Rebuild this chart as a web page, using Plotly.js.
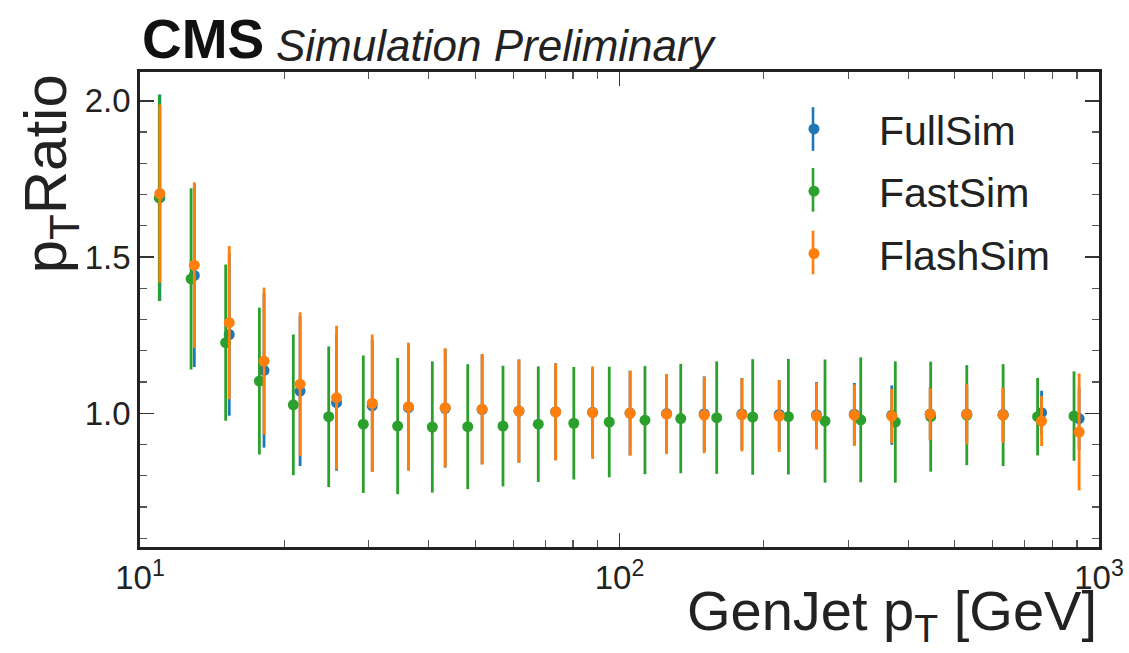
<!DOCTYPE html>
<html><head><meta charset="utf-8">
<script src="https://cdn.plot.ly/plotly-3.0.1.min.js"></script>
<style>html,body{margin:0;padding:0;background:#fff}#chart{width:1129px;height:653px}</style>
</head><body><div id="chart"></div>
<script>
// GenJet pT bin positions (GeV)
const xFullFlash = [11.0, 12.98, 15.35, 18.14, 21.57, 25.7, 30.5, 36.3, 43.3, 51.7, 61.7, 73.6, 87.9,
  105.2, 125.4, 150.2, 180, 215.3, 257.6, 308.8, 369.7, 444.6, 530, 631, 759, 909];
const xFast = [10.97, 12.78, 15.09, 17.74, 20.88, 24.75, 29.22, 34.46, 40.7, 48.25, 57.15, 67.7, 80.3,
  95.2, 113, 134.2, 159.5, 189.6, 225, 268.3, 318.5, 376, 445.7, 530, 631, 744.6, 887];

// FullSim
const fullVals = [1.690, 1.441, 1.252, 1.137, 1.071, 1.034, 1.024, 1.018, 1.016, 1.012, 1.007, 1.005, 1.003,
  1.001, 0.999, 0.998, 0.998, 0.996, 0.995, 0.997, 0.994, 0.998, 0.998, 0.996, 1.002, 0.983];
const fullErr = [0.33, 0.293, 0.26, 0.247, 0.24, 0.218, 0.21, 0.2, 0.19, 0.175, 0.165, 0.155, 0.14,
  0.135, 0.125, 0.12, 0.115, 0.11, 0.105, 0.10, 0.095, 0.085, 0.09, 0.085, 0.07, 0.10];

// FastSim
const fastVals = [1.689, 1.430, 1.226, 1.103, 1.027, 0.989, 0.965, 0.959, 0.956, 0.957, 0.959, 0.965, 0.968,
  0.972, 0.978, 0.983, 0.986, 0.988, 0.989, 0.975, 0.979, 0.972, 0.989, 0.994, 0.994, 0.989, 0.991];
const fastErr = [0.33, 0.29, 0.25, 0.235, 0.225, 0.225, 0.22, 0.218, 0.21, 0.2, 0.193, 0.185, 0.18,
  0.177, 0.173, 0.175, 0.18, 0.185, 0.185, 0.197, 0.2, 0.194, 0.176, 0.16, 0.163, 0.124, 0.143];

// FlashSim
const flashVals = [1.703, 1.474, 1.290, 1.167, 1.093, 1.050, 1.032, 1.021, 1.018, 1.013, 1.007, 1.004, 1.002,
  1.000, 0.997, 0.994, 0.995, 0.991, 0.991, 0.994, 0.991, 0.997, 0.997, 0.994, 0.975, 0.940];
const flashErr = [0.285, 0.265, 0.245, 0.235, 0.23, 0.23, 0.22, 0.205, 0.19, 0.177, 0.165, 0.155, 0.148,
  0.136, 0.128, 0.122, 0.117, 0.115, 0.107, 0.098, 0.087, 0.083, 0.097, 0.088, 0.08, 0.187];

const seriesNames = ['FullSim', 'FastSim', 'FlashSim'];
const seriesColors = ['#1f77b4', '#2ca02c', '#ff7f0e'];
const xTickVals = [10, 100, 1000];
const xTickText = ['10<sup>1</sup>', '10<sup>2</sup>', '10<sup>3</sup>'];

const FONT = 'Liberation Sans, Arial, Helvetica, sans-serif';

function mk(x, y, e, i) {
  return {
    type: 'scatter', mode: 'markers', name: seriesNames[i], x: x, y: y,
    marker: {color: seriesColors[i], size: 11},
    error_y: {type: 'data', array: e, visible: true, color: seriesColors[i], thickness: 2.8, width: 0},
    legendgroup: seriesNames[i]
  };
}
const data = [
  mk(xFullFlash, fullVals, fullErr, 0),
  mk(xFast, fastVals, fastErr, 1),
  mk(xFullFlash, flashVals, flashErr, 2)
];

const axCommon = {
  showline: true, linecolor: '#222', linewidth: 2.8, mirror: 'allticks',
  ticks: 'inside', ticklen: 14, tickwidth: 1.5, tickcolor: '#333',
  showgrid: false, zeroline: false,
  tickfont: {family: FONT, size: 33, color: '#222'}
};

// legend error-bar strokes (paper coordinates of the legend symbols)
const legendBarX = 0.7018;
const legendBarY = [0.880, 0.752, 0.620];
const legendShapes = legendBarY.map((yc, i) => ({
  type: 'line', xref: 'paper', yref: 'paper', x0: legendBarX, x1: legendBarX,
  y0: yc - 0.046, y1: yc + 0.046, line: {color: seriesColors[i], width: 2.6}
}));

const layout = {
  width: 1129, height: 653,
  margin: {l: 140, r: 30, t: 72, b: 106},
  paper_bgcolor: '#fff', plot_bgcolor: '#fff',
  xaxis: Object.assign({}, axCommon, {
    type: 'log', range: [1, 3],
    tickvals: xTickVals, ticktext: xTickText,
    minor: {ticks: 'inside', ticklen: 7, tickwidth: 1.2, tickcolor: '#555', dtick: 'D1', showgrid: false}
  }),
  yaxis: Object.assign({}, axCommon, {
    range: [0.572, 2.092], dtick: 0.5, tick0: 0, tickformat: '.1f',
    minor: {ticks: 'inside', ticklen: 7, tickwidth: 1.2, tickcolor: '#555', dtick: 0.1, showgrid: false}
  }),
  showlegend: true,
  legend: {
    x: 0.635, y: 0.95, xanchor: 'left', yanchor: 'top',
    bgcolor: 'rgba(0,0,0,0)', borderwidth: 0,
    font: {family: FONT, size: 41, color: '#222'},
    itemwidth: 120, tracegroupgap: 6
  },
  shapes: legendShapes,
  annotations: [
    {xref: 'paper', yref: 'paper', x: 0, y: 1, xanchor: 'left', yanchor: 'bottom', yshift: 0, showarrow: false,
     text: '<b>CMS</b>', font: {family: FONT, size: 55, color: '#111'}},
    {xref: 'paper', yref: 'paper', x: 0.140, y: 1, xanchor: 'left', yanchor: 'bottom', yshift: 0, showarrow: false,
     text: '<i>Simulation Preliminary</i>', font: {family: FONT, size: 44, color: '#222'}},
    {xref: 'paper', yref: 'paper', x: 1, y: -0.2232, yshift: 1, xanchor: 'right', yanchor: 'bottom', showarrow: false,
     text: 'GenJet p<sub>T</sub> [GeV]', font: {family: FONT, size: 56, color: '#222'}},
    {xref: 'paper', yref: 'paper', x: -0.094, y: 1, xanchor: 'center', yanchor: 'top', showarrow: false, textangle: -90,
     text: 'p<sub>T</sub>Ratio', font: {family: FONT, size: 60, color: '#222'}}
  ]
};

Plotly.newPlot('chart', data, layout, {displayModeBar: false, staticPlot: true});
</script>
</body></html>
